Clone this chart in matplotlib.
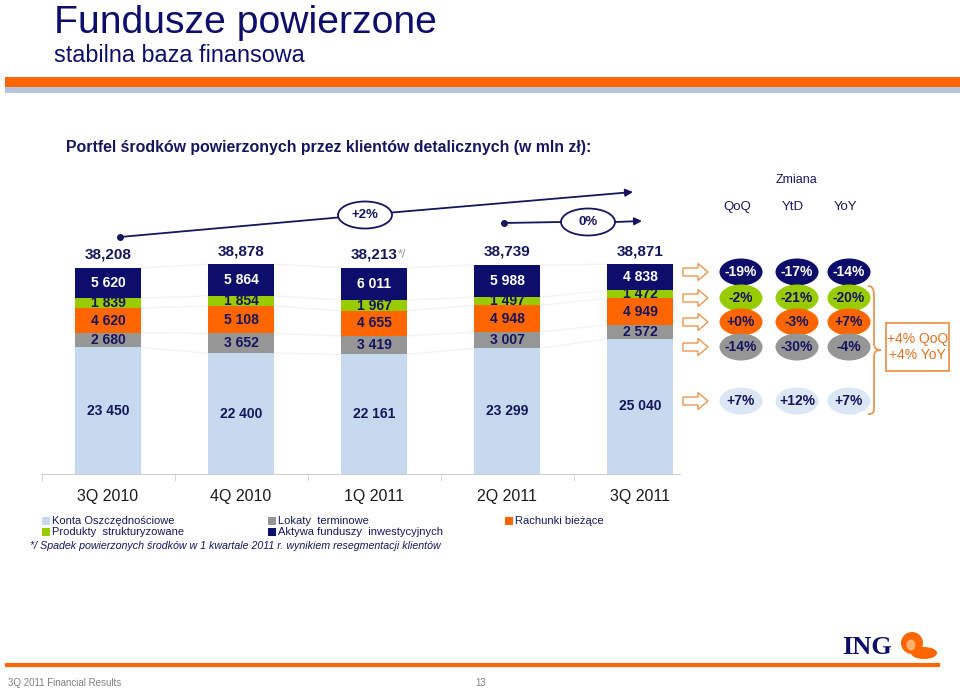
import matplotlib
matplotlib.use("Agg")
import matplotlib.pyplot as plt
import numpy as np
from matplotlib.patches import Ellipse, Rectangle, FancyArrow, PathPatch
from matplotlib.path import Path

plt.rcParams['font.family'] = ['Liberation Sans', 'DejaVu Sans']

# data (mln zł)
quarters = ['3Q 2010', '4Q 2010', '1Q 2011', '2Q 2011', '3Q 2011']
konta = [23450, 22400, 22161, 23299, 25040]
lokaty = [2680, 3652, 3419, 3007, 2572]
rachunki = [4620, 5108, 4655, 4948, 4949]
produkty = [1839, 1854, 1967, 1497, 1472]
aktywa = [5620, 5864, 6011, 5988, 4838]
totals = [38208, 38878, 38213, 38739, 38871]
names = ['Konta Oszczędnościowe', 'Lokaty  terminowe', 'Rachunki bieżące',
         'Produkty  strukturyzowane', 'Aktywa funduszy  inwestycyjnych']

# changes, rows top->bottom: aktywa, produkty, rachunki, lokaty, konta
chg_qoq = ['-19%', '-2%', '+0%', '-14%', '+7%']
chg_ytd = ['-17%', '-21%', '-3%', '-30%', '+12%']
chg_yoy = ['-14%', '-20%', '+7%', '-4%', '+7%']
total_chg = ['+2%', '0%']
group_chg = ['+4% QoQ', '+4% YoY']

NAVY = '#0d0d6b'
TXT = '#16165e'
ORANGE = '#ff6600'
GREEN = '#99cc00'
GRAY = '#969696'
LBLUE = '#c6d9ee'
LORANGE = '#ec9550'

fig = plt.figure(figsize=(9.6, 6.91), dpi=100)

# overlay in pixel coords for the slide decoration
ov = fig.add_axes([0, 0, 1, 1])
ov.set_xlim(0, 960)
ov.set_ylim(691, 0)
ov.axis('off')

ov.add_patch(Rectangle((5, 77), 955, 10, color=ORANGE, lw=0))
ov.add_patch(Rectangle((5, 87), 955, 6, color='#b5c4dc', lw=0))
ov.text(54, 33, 'Fundusze powierzone', fontsize=28.2, color=NAVY, va='baseline')
ov.text(54, 62, 'stabilna baza finansowa', fontsize=16.8, color=NAVY, va='baseline')
ov.text(66, 152, 'Portfel środków powierzonych przez klientów detalicznych (w mln zł):',
        fontsize=11.4, weight='bold', color=TXT, va='baseline')

# stacked bars
PX = 185.3  # mln zł per pixel
ax = fig.add_axes([41.5 / 960, 217 / 691, 665 / 960, 220 / 691])
ax.set_xlim(-0.5, 4.5)
ax.set_ylim(0, 220 * PX)
ax.patch.set_alpha(0)
x = np.arange(len(quarters))
stack = [konta, lokaty, rachunki, produkty, aktywa]
colors = [LBLUE, GRAY, ORANGE, GREEN, NAVY]
bottom = np.zeros(len(x))
tops = []
for vals, col, name in zip(stack, colors, names):
    vals = np.array(vals)
    ax.bar(x, vals, 0.5, bottom=bottom, color=col, label=name, zorder=2)
    for i in x:
        ax.text(i, bottom[i] + vals[i] / 2, f"{vals[i]:,}".replace(',', ' '),
                ha='center', va='center', fontsize=10, weight='bold',
                color='white' if col == NAVY else TXT, zorder=3)
    bottom = bottom + vals
    tops.append(bottom.copy())

# faint series lines between bars
for lvl in tops:
    for i in range(len(x) - 1):
        ax.plot([i + 0.25, i + 0.75], [lvl[i], lvl[i + 1]], color='#f3f3f3', lw=1, zorder=1)

for i, t in enumerate(totals):
    ax.text(i, t + 13 * PX, f"{t:,}", ha='center', va='center', fontsize=11,
            weight='bold', color=TXT)
ax.annotate('*/', xy=(2, totals[2] + 13 * PX), xytext=(17, 0), textcoords='offset points',
            color='#9a9a9a', fontsize=9, va='center')

for s in ['top', 'left', 'right']:
    ax.spines[s].set_visible(False)
ax.spines['bottom'].set_color('#d0d0d0')
ax.spines['bottom'].set_bounds(-0.5, 4.3)
ax.set_yticks([])
ax.set_xticks(x)
ax.set_xticklabels(quarters, fontsize=11.5, color='#1a1a1a')
ax.tick_params(axis='x', length=0, pad=11)
ax.set_xticks([-0.5, 0.5, 1.5, 2.5, 3.5], minor=True)
ax.tick_params(axis='x', which='minor', length=5, color='#d0d0d0')

# total change arrows
ov.plot([120, 338], [237, 217.5], color=TXT, lw=1.3)
ov.plot(120, 237, 'o', ms=4, color=TXT)
ov.add_patch(Ellipse((365, 215), 54, 27, fc='white', ec=TXT, lw=1.3))
ov.text(365, 215, total_chg[0], ha='center', va='center', fontsize=9.5, weight='bold', color=TXT)
ov.annotate('', xy=(633, 192), xytext=(392, 212.5),
            arrowprops=dict(arrowstyle='-|>', color=TXT, lw=1.3, mutation_scale=11,
                            shrinkA=0, shrinkB=0))
ov.plot([504, 561], [223, 222], color=TXT, lw=1.3)
ov.plot(504, 223, 'o', ms=4, color=TXT)
ov.add_patch(Ellipse((588, 222), 54, 27, fc='white', ec=TXT, lw=1.3))
ov.text(588, 222, total_chg[1], ha='center', va='center', fontsize=9.5, weight='bold', color=TXT)
ov.annotate('', xy=(642, 221), xytext=(615, 222),
            arrowprops=dict(arrowstyle='-|>', color=TXT, lw=1.3, mutation_scale=11,
                            shrinkA=0, shrinkB=0))

# change table on the right
ov.text(797, 180, 'Zmiana', ha='center', va='center', fontsize=9, color=TXT)
cols_x = [741, 797, 849]
for cx, lab in zip(cols_x, ['QoQ', 'YtD', 'YoY']):
    ov.text(cx - 4, 207, lab, ha='center', va='center', fontsize=9.5, color=TXT)
rows_y = [272, 298, 322, 347, 401]
row_cols = [NAVY, GREEN, ORANGE, GRAY, '#dce7f5']
for ry in rows_y:
    ov.add_patch(FancyArrow(683, ry, 25, 0, width=8, head_width=17, head_length=10,
                            length_includes_head=True, fc='white', ec=LORANGE, lw=1))
for cx, vals in zip(cols_x, [chg_qoq, chg_ytd, chg_yoy]):
    for ry, col, v in zip(rows_y, row_cols, vals):
        ov.add_patch(Ellipse((cx, ry), 43, 27, fc=col, ec='none'))
        ov.text(cx, ry, v, ha='center', va='center', fontsize=10, weight='bold',
                color='white' if col == NAVY else TXT)

# brace and group box
verts = [(868, 286), (874, 286), (874, 292), (874, 298),
         (874, 343),
         (874, 349), (877, 350), (881, 350),
         (877, 350), (874, 351), (874, 357),
         (874, 406),
         (874, 412), (874, 414), (868, 414)]
codes = [Path.MOVETO, Path.CURVE4, Path.CURVE4, Path.CURVE4,
         Path.LINETO,
         Path.CURVE4, Path.CURVE4, Path.CURVE4,
         Path.CURVE4, Path.CURVE4, Path.CURVE4,
         Path.LINETO,
         Path.CURVE4, Path.CURVE4, Path.CURVE4]
ov.add_patch(PathPatch(Path(verts, codes), fc='none', ec=LORANGE, lw=1.3))
ov.add_patch(Rectangle((886, 323), 63, 48, fc='none', ec=LORANGE, lw=1.3))
ov.text(917.5, 347, '\n'.join(group_chg), ha='center', va='center', fontsize=10,
        color='#e07020', linespacing=1.2)

# legend
leg = [(42, 521, 0), (42, 532, 3), (268, 521, 1), (268, 532, 4), (505, 521, 2)]
for lx, ly, k in leg:
    ov.add_patch(Rectangle((lx, ly - 4), 8, 8, color=colors[k], lw=0))
    ov.text(lx + 10, ly, names[k], fontsize=8, color=TXT, va='center')
ov.text(30, 546, '*/ Spadek powierzonych środków w 1 kwartale 2011 r. wynikiem resegmentacji klientów',
        fontsize=7.7, style='italic', color=TXT, va='center')

# footer
ov.plot([5, 940], [665, 665], color=ORANGE, lw=3, solid_capstyle='butt')
ov.text(8, 683, '3Q 2011 Financial Results', fontsize=7, color='#808080', va='center')
ov.text(475, 683, '13', fontsize=7, color='#808080', va='center')
ov.text(867, 647, 'ING', family=['Liberation Serif'], weight='bold', fontsize=19,
        color=NAVY, ha='center', va='center')
ov.add_patch(Ellipse((912, 643), 22, 22, color=ORANGE, lw=0))
ov.add_patch(Ellipse((924, 653), 26, 12, color=ORANGE, lw=0))
ov.add_patch(Ellipse((911, 645), 9, 11, color='#ffb070', lw=0))

fig.savefig('out.png', dpi=100)
